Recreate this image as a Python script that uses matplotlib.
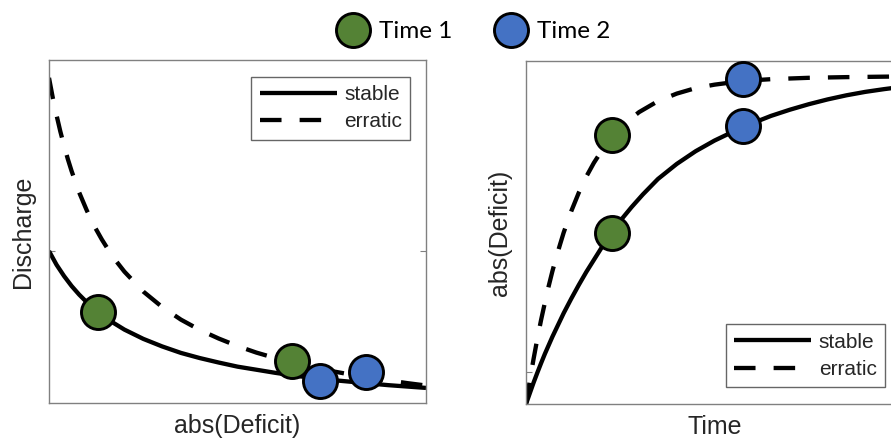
import matplotlib
matplotlib.use("Agg")
import matplotlib.pyplot as plt
from matplotlib.lines import Line2D

# ---------------- data (normalized axis units) -------------
# Left panel: Discharge vs abs(Deficit)
left_stable_x = [0.0, 0.02, 0.04, 0.06, 0.08, 0.10, 0.131, 0.16, 0.20, 0.25, 0.30, 0.35, 0.40,
                 0.45, 0.50, 0.55, 0.60, 0.65, 0.70, 0.75, 0.80, 0.85, 0.90, 0.95, 1.0]
left_stable_y = [0.443, 0.403, 0.370, 0.341, 0.316, 0.294, 0.264, 0.241, 0.214, 0.187, 0.165, 0.146, 0.131,
                 0.118, 0.106, 0.097, 0.088, 0.080, 0.073, 0.067, 0.062, 0.057, 0.052, 0.048, 0.044]
left_erratic_x = [0.0, 0.01, 0.02, 0.03, 0.04, 0.05, 0.06, 0.08, 0.10, 0.12, 0.14, 0.16, 0.18, 0.20,
                  0.25, 0.30, 0.35, 0.40, 0.45, 0.50, 0.55, 0.60, 0.65, 0.70, 0.75, 0.80, 0.85, 0.90, 0.95, 1.0]
left_erratic_y = [0.948, 0.890, 0.839, 0.792, 0.750, 0.711, 0.676, 0.614, 0.562, 0.516, 0.477, 0.442, 0.411, 0.383,
                  0.325, 0.280, 0.243, 0.213, 0.188, 0.166, 0.147, 0.131, 0.117, 0.104, 0.093, 0.083, 0.074, 0.066, 0.058, 0.051]
left_t1_x = [0.131, 0.644]
left_t1_y = [0.266, 0.122]
left_t2_x = [0.72, 0.84]
left_t2_y = [0.063, 0.089]

# Right panel: abs(Deficit) vs Time
right_stable_x = [0.0, 0.01, 0.02, 0.03, 0.04, 0.05, 0.06, 0.07, 0.08, 0.09, 0.10, 0.12, 0.14, 0.16, 0.18,
                  0.20, 0.227, 0.25, 0.28, 0.31, 0.35, 0.40, 0.45, 0.50, 0.576, 0.65, 0.70, 0.75, 0.80,
                  0.85, 0.90, 0.95, 1.0]
right_stable_y = [0.0, 0.031, 0.062, 0.091, 0.119, 0.146, 0.171, 0.196, 0.219, 0.242, 0.265, 0.307, 0.347, 0.385, 0.420,
                  0.455, 0.5, 0.534, 0.574, 0.611, 0.656, 0.700, 0.737, 0.768, 0.808, 0.840, 0.858, 0.874, 0.888,
                  0.900, 0.910, 0.918, 0.925]
right_erratic_x = [0.0, 0.01, 0.02, 0.03, 0.04, 0.05, 0.06, 0.07, 0.08, 0.09, 0.10, 0.12, 0.14, 0.16, 0.18,
                   0.20, 0.227, 0.26, 0.30, 0.35, 0.40, 0.45, 0.50, 0.576, 0.65, 0.75, 0.85, 1.0]
right_erratic_y = [0.0, 0.068, 0.131, 0.190, 0.245, 0.295, 0.343, 0.387, 0.427, 0.464, 0.500, 0.562, 0.616, 0.663, 0.703,
                   0.737, 0.777, 0.816, 0.851, 0.883, 0.905, 0.921, 0.931, 0.942, 0.947, 0.951, 0.953, 0.955]
right_t1_x = [0.227, 0.227]
right_t1_y = [0.5, 0.784]
right_t2_x = [0.576, 0.576]
right_t2_y = [0.81, 0.948]

left_ytick = [0.443]
right_ytick = [0.094]

series_labels = ["stable", "erratic"]
time_labels = ["Time 1", "Time 2"]

GREEN = "#548235"
BLUE = "#4472C4"
LABEL_COLOR = "#262626"
SPINE_COLOR = "#808080"

plt.rcParams["font.family"] = ["Liberation Sans", "DejaVu Sans"]

fig = plt.figure(figsize=(8.91, 4.43), dpi=100)
axL = fig.add_axes([49 / 891, 1 - 403 / 443, 377 / 891, 343 / 443])
axR = fig.add_axes([526 / 891, 1 - 404 / 443, 377 / 891, 343 / 443])

LW = 3.1
DASH = (5, 4.2)
MS = 24.5
MEW = 2.1


def style_axes(ax, yticks):
    ax.set_xlim(0, 1)
    ax.set_ylim(0, 1)
    ax.set_xticks([])
    ax.set_yticks(yticks)
    ax.tick_params(axis="y", direction="in", left=True, right=True,
                   labelleft=False, length=4, width=0.8, color=SPINE_COLOR)
    for s in ax.spines.values():
        s.set_color(SPINE_COLOR)
        s.set_linewidth(1.0)


def draw(ax, sx, sy, ex, ey, t1x, t1y, t2x, t2y):
    ax.plot(sx, sy, color="black", lw=LW, solid_capstyle="butt", solid_joinstyle="round",
            label=series_labels[0], zorder=2)
    ln, = ax.plot(ex, ey, color="black", lw=LW, label=series_labels[1], zorder=2)
    ln.set_dashes(DASH)
    ln.set_dash_capstyle("butt")
    ax.plot(t1x, t1y, "o", ms=MS, mfc=GREEN, mec="black", mew=MEW, zorder=3, clip_on=False)
    ax.plot(t2x, t2y, "o", ms=MS, mfc=BLUE, mec="black", mew=MEW, zorder=3, clip_on=False)


draw(axL, left_stable_x, left_stable_y, left_erratic_x, left_erratic_y,
     left_t1_x, left_t1_y, left_t2_x, left_t2_y)
draw(axR, right_stable_x, right_stable_y, right_erratic_x, right_erratic_y,
     right_t1_x, right_t1_y, right_t2_x, right_t2_y)
style_axes(axL, left_ytick)
style_axes(axR, right_ytick)

axL.set_xlabel("abs(Deficit)", fontsize=18, color=LABEL_COLOR, labelpad=8)
axL.set_ylabel("Discharge", fontsize=18, color=LABEL_COLOR, labelpad=10)
axR.set_xlabel("Time", fontsize=18, color=LABEL_COLOR, labelpad=8)
axR.set_ylabel("abs(Deficit)", fontsize=18, color=LABEL_COLOR, labelpad=10)

leg_kw = dict(fontsize=15, frameon=True, fancybox=False, handlelength=3.7,
              handletextpad=0.35, labelspacing=0.4, borderpad=0.4, borderaxespad=0)
legL = axL.legend(loc="upper right", bbox_to_anchor=(0.958, 0.951), **leg_kw)
legR = axR.legend(loc="lower right", bbox_to_anchor=(0.952, 0.049), **leg_kw)
for lg in (legL, legR):
    fr = lg.get_frame()
    fr.set_edgecolor("#404040")
    fr.set_linewidth(1.0)
    for t in lg.get_texts():
        t.set_color(LABEL_COLOR)

handles = [Line2D([], [], marker="o", linestyle="none", ms=MS, mfc=GREEN, mec="black", mew=MEW),
           Line2D([], [], marker="o", linestyle="none", ms=MS, mfc=BLUE, mec="black", mew=MEW)]
fig.legend(handles, time_labels, loc="center", bbox_to_anchor=(0.531, 0.928), ncol=2,
           frameon=False, handlelength=1.4, handletextpad=0.37, columnspacing=1.7,
           prop={"family": ["Lato", "DejaVu Sans"], "size": 17.5})

fig.savefig("out.png", dpi=100)
